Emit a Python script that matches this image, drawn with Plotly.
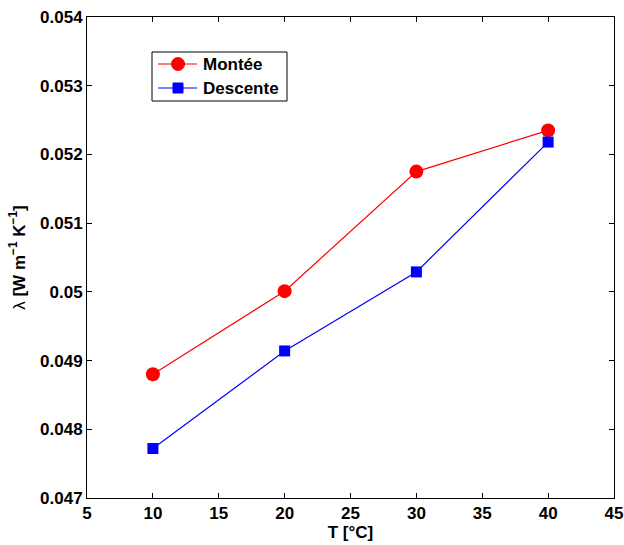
import plotly.graph_objects as go

temps = [10, 20, 30, 40]
montee = [0.04880, 0.05001, 0.05175, 0.05235]
descente = [0.04772, 0.04914, 0.05029, 0.05218]
series_names = ["Montée", "Descente"]
x_ticks = [5, 10, 15, 20, 25, 30, 35, 40, 45]
y_ticks = [0.047, 0.048, 0.049, 0.05, 0.051, 0.052, 0.053, 0.054]
y_tick_labels = ["0.047", "0.048", "0.049", "0.05", "0.051", "0.052", "0.053", "0.054"]

W, H = 624, 545
ML, MR, MT, MB = 87, 10, 17, 47
PW, PH = W - ML - MR, H - MT - MB
fam = "Liberation Sans, Arial, sans-serif"
RED, BLUE = "#ff0000", "#0000ff"

def px(xp):
    return (xp - ML) / PW

def py(yp):
    return 1 - (yp - MT) / PH

fig = go.Figure()
fig.add_trace(go.Scatter(x=temps, y=montee, mode="lines+markers", name=series_names[0],
                         line=dict(color=RED, width=1.2),
                         marker=dict(symbol="circle", size=14, color=RED)))
fig.add_trace(go.Scatter(x=temps, y=descente, mode="lines+markers", name=series_names[1],
                         line=dict(color=BLUE, width=1.2),
                         marker=dict(symbol="square", size=11, color=BLUE)))

# manual legend (box, line samples, marker samples, labels)
shapes = [dict(type="rect", xref="paper", yref="paper", x0=px(152), x1=px(287), y0=py(101), y1=py(52),
               line=dict(color="black", width=1), fillcolor="white", layer="above")]
annotations = []
rows = [(64, RED, "circle"), (88, BLUE, "square")]
for (yc, col, sym), name in zip(rows, series_names):
    shapes.append(dict(type="line", xref="paper", yref="paper", x0=px(158), x1=px(197), y0=py(yc), y1=py(yc),
                       line=dict(color=col, width=1.2), layer="above"))
    r = 6.5 if sym == "circle" else 5
    shapes.append(dict(type="circle" if sym == "circle" else "rect", xref="paper", yref="paper",
                       xsizemode="pixel", ysizemode="pixel", xanchor=px(178), yanchor=py(yc),
                       x0=-r, x1=r, y0=-r, y1=r, fillcolor=col, line=dict(color=col, width=1),
                       layer="above"))
    annotations.append(dict(xref="paper", yref="paper", x=px(201), y=py(yc), xanchor="left", yanchor="middle",
                            text=f"<b>{name}</b>", showarrow=False, font=dict(family=fam, size=17, color="black")))

fig.update_layout(
    width=W, height=H,
    margin=dict(l=ML, r=MR, t=MT, b=MB),
    paper_bgcolor="white", plot_bgcolor="white",
    font=dict(family=fam, size=17, color="black"),
    showlegend=False,
    shapes=shapes, annotations=annotations,
    xaxis=dict(range=[5, 45], tickvals=x_ticks, ticktext=[f"<b>{t}</b>" for t in x_ticks],
               ticks="inside", ticklen=5, tickcolor="black", showline=True, linecolor="black",
               linewidth=1, mirror="ticks", showgrid=False, zeroline=False, automargin=False,
               title=dict(text="<b>T [°C]</b>", standoff=0, font=dict(family=fam, size=17)),
               tickfont=dict(family=fam, size=17)),
    yaxis=dict(range=[0.047, 0.054], tickvals=y_ticks,
               ticktext=[f"<b>{t}</b>" for t in y_tick_labels],
               ticks="inside", ticklen=5, tickcolor="black", showline=True, linecolor="black",
               linewidth=1, mirror="ticks", showgrid=False, zeroline=False, automargin=False,
               title=dict(text="λ <b>[W m<sup>−1</sup> K<sup>−1</sup>]</b>", standoff=10,
                          font=dict(family=fam, size=17)),
               tickfont=dict(family=fam, size=17)),
)
fig.write_html("out.html", config={"displayModeBar": False},
               post_script="document.body.style.margin='0';document.body.style.padding='0';")
